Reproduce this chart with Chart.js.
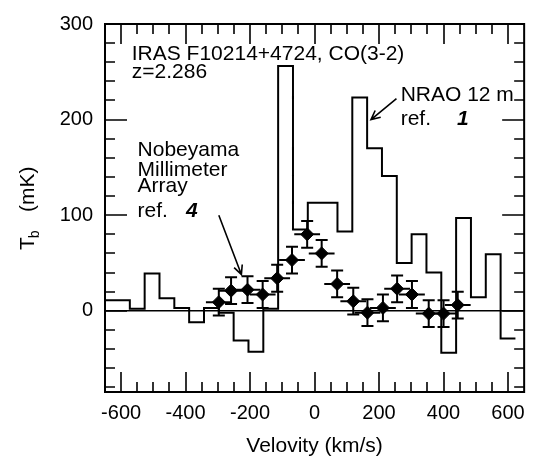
<!DOCTYPE html>
<html><head><meta charset="utf-8">
<script src="https://cdn.jsdelivr.net/npm/chart.js@4/dist/chart.umd.min.js"></script>
<style>html,body{margin:0;padding:0;background:#fff;} #wrap{width:534px;height:456px;}</style>
</head><body><div id="wrap"><canvas id="c" width="534" height="456"></canvas></div>
<script>
// NRAO 12 m spectrum: bin edges (km/s) and brightness per bin (mK)
const nraoEdges = [-650,-573,-527,-481,-435,-389,-343,-297,-251,-205,-159,-113,-67,-21,25,71,117,163,209,255,301,347,393,439,485,531,577,623];
const nraoValues = [11,2,39,13,3,-12,3,-2,-31,-43,2,256,85,113,113,83,223,170,141,50,80,40,-44,97,14,59,-29];
// Nobeyama Millimeter Array points
const nmaVelocity = [-297,-259,-208,-161,-116,-70,-23,22,70,120,164,212,256,302,354,400,444];
const nmaTb       = [9,21,22,17,34,53,80,60,28,10,-2,3,23,17,-3,-3,6];
const nmaTbErr    = [14,14,14,14,14,14,14,14,14,14,14,14,14,14,14,14,14];
const nmaVelErr   = [40,40,40,40,40,40,40,40,40,40,40,40,40,40,40,40,40];
// axis ticks
const xTickLabels = [-600,-400,-200,0,200,400,600];
const yTickLabels = [0,100,200,300];

const FONT = "'Liberation Sans', Arial, Helvetica, sans-serif";
Chart.defaults.font.family = FONT;
Chart.defaults.color = '#000';

const histData = nraoEdges.map((e,i)=>({x:e, y:nraoValues[Math.min(i, nraoValues.length-1)]}));
const nmaData = nmaVelocity.map((v,i)=>({x:v, y:nmaTb[i]}));

// annotations in data coordinates
const texts = [
  {t:'IRAS F10214+4724, CO(3-2)', v:-567, T:262},
  {t:'z=2.286', v:-567, T:243},
  {t:'Nobeyama', v:-549, T:162},
  {t:'Millimeter', v:-549, T:141.5},
  {t:'Array', v:-549, T:124},
  {t:'ref.', v:-549, T:98, num:'4', gap:18},
  {t:'NRAO 12 m', v:267, T:219},
  {t:'ref.', v:267, T:194.5, num:'1', gap:26}
];
const arrows = [
  {v1:254, T1:222, v2:175, T2:200},
  {v1:-297, T1:100, v2:-227, T2:38}
];

const framePlugin = {
  id:'frame',
  beforeDatasetsDraw(chart){
    const ctx = chart.ctx, xs = chart.scales.x, ys = chart.scales.y;
    ctx.save();
    ctx.strokeStyle = '#000'; ctx.lineWidth = 2;
    nmaVelocity.forEach((v,i)=>{
      const px = xs.getPixelForValue(v), py = ys.getPixelForValue(nmaTb[i]);
      const y1 = ys.getPixelForValue(nmaTb[i]-nmaTbErr[i]), y2 = ys.getPixelForValue(nmaTb[i]+nmaTbErr[i]);
      const x1 = xs.getPixelForValue(v-nmaVelErr[i]), x2 = xs.getPixelForValue(v+nmaVelErr[i]);
      ctx.beginPath();
      ctx.moveTo(px,y1); ctx.lineTo(px,y2);
      ctx.moveTo(px-6,y1); ctx.lineTo(px+6,y1);
      ctx.moveTo(px-6,y2); ctx.lineTo(px+6,y2);
      ctx.moveTo(x1,py); ctx.lineTo(x2,py);
      ctx.stroke();
    });
    ctx.restore();
  },
  afterDraw(chart){
    const ctx = chart.ctx, ca = chart.chartArea, xs = chart.scales.x, ys = chart.scales.y;
    ctx.save();
    ctx.strokeStyle = '#000'; ctx.fillStyle = '#000';
    ctx.lineWidth = 2;
    ctx.strokeRect(ca.left, ca.top, ca.right-ca.left, ca.bottom-ca.top);
    ctx.lineWidth = 1.6;
    ctx.beginPath();
    for (let v=-600; v<=600; v+=50){
      const L = (v%200===0)?20:10;
      const px = Math.round(xs.getPixelForValue(v));
      ctx.moveTo(px, ca.bottom); ctx.lineTo(px, ca.bottom-L);
      ctx.moveTo(px, ca.top); ctx.lineTo(px, ca.top+L);
    }
    for (let t=-80; t<=300; t+=20){
      const L = (t%100===0)?22:10;
      const py = Math.round(ys.getPixelForValue(t));
      ctx.moveTo(ca.left, py); ctx.lineTo(ca.left+L, py);
      ctx.moveTo(ca.right, py); ctx.lineTo(ca.right-L, py);
    }
    ctx.stroke();
    // texts
    ctx.textAlign = 'left'; ctx.textBaseline = 'alphabetic';
    texts.forEach(o=>{
      const px = xs.getPixelForValue(o.v), py = ys.getPixelForValue(o.T);
      ctx.font = '21px ' + FONT;
      ctx.fillText(o.t, px, py);
      if (o.num){
        const w = ctx.measureText(o.t).width;
        ctx.font = 'italic bold 21px ' + FONT;
        ctx.fillText(o.num, px + w + o.gap, py);
      }
    });
    // arrows
    ctx.lineWidth = 1.6;
    arrows.forEach(a=>{
      const x1 = xs.getPixelForValue(a.v1), y1 = ys.getPixelForValue(a.T1);
      const x2 = xs.getPixelForValue(a.v2), y2 = ys.getPixelForValue(a.T2);
      const ang = Math.atan2(y2-y1, x2-x1), h = 10;
      ctx.beginPath();
      ctx.moveTo(x1,y1); ctx.lineTo(x2,y2);
      ctx.moveTo(x2 - h*Math.cos(ang-0.45), y2 - h*Math.sin(ang-0.45));
      ctx.lineTo(x2,y2);
      ctx.lineTo(x2 - h*Math.cos(ang+0.45), y2 - h*Math.sin(ang+0.45));
      ctx.stroke();
    });
    // y axis title: T_b (mK)
    ctx.save();
    ctx.translate(34, 250);
    ctx.rotate(-Math.PI/2);
    ctx.font = '21px ' + FONT;
    ctx.fillText('T', 0, 0);
    const tw = ctx.measureText('T').width;
    ctx.font = '14px ' + FONT;
    ctx.fillText('b', tw - 1, 5);
    ctx.font = '21px ' + FONT;
    ctx.fillText('(mK)', 38, 0);
    ctx.restore();
    ctx.restore();
  }
};

new Chart(document.getElementById('c'), {
  type:'scatter',
  data:{
    datasets:[
      {type:'line', label:'NRAO 12 m', data:histData, stepped:true, borderColor:'#000', borderWidth:2, pointRadius:0, fill:false},
      {type:'line', label:'zero', data:[{x:-650,y:0},{x:650,y:0}], borderColor:'#000', borderWidth:1.6, pointRadius:0, fill:false},
      {type:'scatter', label:'Nobeyama', data:nmaData, pointStyle:'rectRot', pointRadius:6.5, backgroundColor:'#000', borderColor:'#000', borderWidth:1}
    ]
  },
  options:{
    responsive:false, animation:false,
    layout:{padding:{left:0, right:5, top:20, bottom:0}},
    plugins:{legend:{display:false}, tooltip:{enabled:false}},
    scales:{
      x:{type:'linear', min:-650, max:650,
         afterBuildTicks:s=>{s.ticks = xTickLabels.map(v=>({value:v}));},
         afterFit:s=>{s.height = 64;},
         grid:{display:false, drawTicks:false}, border:{display:false},
         ticks:{font:{size:20}, color:'#000', padding:9, maxRotation:0, autoSkip:false},
         title:{display:true, text:'Velovity (km/s)', font:{size:21}, color:'#000', padding:{top:0,bottom:-3}}},
      y:{type:'linear', min:-85, max:300,
         afterBuildTicks:s=>{s.ticks = yTickLabels.map(v=>({value:v}));},
         afterFit:s=>{s.width = 105;},
         grid:{display:false, drawTicks:false}, border:{display:false},
         ticks:{font:{size:20}, color:'#000', padding:12}}
    }
  },
  plugins:[framePlugin]
});
</script></body></html>
